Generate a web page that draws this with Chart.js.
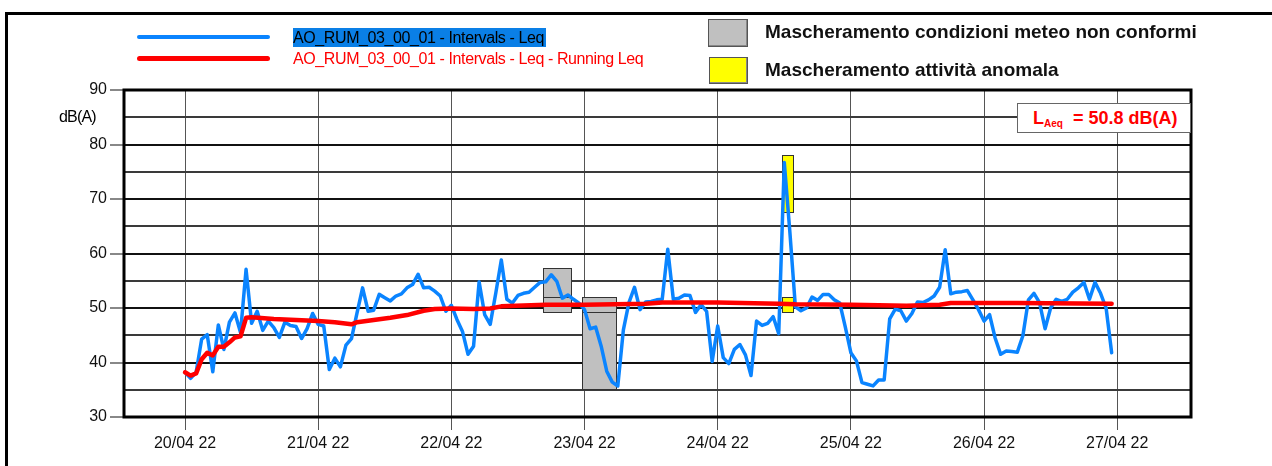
<!DOCTYPE html>
<html>
<head>
<meta charset="utf-8">
<script src="https://cdn.jsdelivr.net/npm/chart.js@4.4.1/dist/chart.umd.min.js"></script>
<style>
  html, body { margin: 0; padding: 0; background: #fff; }
  #wrap { position: relative; width: 1272px; height: 466px; overflow: hidden; font-family: "Liberation Sans", Arial, sans-serif; }
  #frame { position: absolute; left: 5px; top: 12px; width: 1400px; height: 600px; border-left: 3px solid #000; border-top: 3px solid #000; }
  canvas { position: absolute; left: 0; top: 0; }
  .lg-line { position: absolute; border-radius: 3px; }
  .lg-txt { position: absolute; font-size: 16px; letter-spacing: -0.4px; white-space: nowrap; line-height: 19px; }
  .mk-box { position: absolute; border: 1px solid #555; box-shadow: inset -1px -1px 0 #888; }
  .mk-txt { position: absolute; font-size: 19px; font-weight: bold; white-space: nowrap; line-height: 22px; color: #111; }
  #ylab { position: absolute; left: 59px; top: 108px; font-size: 16px; letter-spacing: -0.8px; }
  #laeq { position: absolute; left: 1017px; top: 103px; width: 172px; height: 28px; background: #fff; border: 1px solid #666; color: #f00; font-weight: bold; font-size: 18px; line-height: 28px; white-space: nowrap; }
  #laeq sub { font-size: 10px; vertical-align: -3px; }
</style>
</head>
<body>
<div id="wrap">
  <div id="frame"></div>
  <canvas id="chart" width="1272" height="466"></canvas>

  <div class="lg-line" style="left:137px; top:35px; width:133px; height:4px; background:#0a84ff;"></div>
  <div class="lg-line" style="left:137px; top:56px; width:133px; height:5px; background:#ff0000;"></div>
  <div class="lg-txt" style="left:293px; top:28px; background:#0a7fe6; color:#000; padding-right:2px;">AO_RUM_03_00_01 - Intervals - Leq</div>
  <div class="lg-txt" style="left:293px; top:49px; color:#ff0000;">AO_RUM_03_00_01 - Intervals - Leq - Running Leq</div>

  <div class="mk-box" style="left:708px; top:19px; width:38px; height:26px; background:#c0c0c0;"></div>
  <div class="mk-txt" style="left:765px; top:21px;">Mascheramento condizioni meteo non conformi</div>
  <div class="mk-box" style="left:709px; top:57px; width:37px; height:25px; background:#ffff00;"></div>
  <div class="mk-txt" style="left:765px; top:59px;">Mascheramento attività anomala</div>

  <div id="ylab">dB(A)</div>
  <div id="laeq">&nbsp;&nbsp;&nbsp;L<sub>Aeq</sub>&nbsp;&nbsp;= 50.8 dB(A)</div>
</div>

<script>
  // ---- dati (ore dall'inizio del 20/04/22) ----
  const dayHours = [0, 24, 48, 72, 96, 120, 144, 168];
  const dayLabels = ["20/04 22", "21/04 22", "22/04 22", "23/04 22", "24/04 22", "25/04 22", "26/04 22", "27/04 22"];

  // Leq orario (una misura per ora, h0..h167)
  const leqValues = [
    38.2, 37.1, 38.2, 44.3, 45.1, 38.3, 46.9, 42.4, 47.4, 49.1, 45.5, 57.1,
    47.2, 49.4, 45.9, 47.6, 46.4, 44.6, 47.4, 46.8, 46.6, 44.4, 46.2, 49.0,
    47.0, 46.7, 38.7, 40.8, 39.2, 43.2, 44.4, 49.1, 53.7, 49.4, 49.6, 52.5,
    51.9, 51.3, 52.2, 52.6, 53.7, 54.3, 56.2, 53.7, 53.8, 53.1, 52.2, 49.4,
    50.5, 47.9, 45.7, 41.5, 43.0, 54.8, 48.8, 47.0, 52.7, 58.8, 51.6, 50.9,
    52.3, 52.7, 52.9, 53.8, 54.7, 54.8, 56.1, 54.9, 51.8, 52.4, 51.6, 50.9,
    49.7, 46.2, 46.5, 43.0, 38.4, 36.4, 35.7, 46.0, 51.0, 53.8, 49.7, 51.1,
    51.2, 51.5, 51.6, 60.8, 51.6, 51.8, 52.4, 52.3, 49.2, 50.6, 49.4, 40.2,
    46.7, 40.9, 39.8, 42.4, 43.3, 41.4, 37.6, 47.6, 46.8, 47.2, 48.4, 45.3,
    76.7, 64.0, 50.2, 49.5, 50.0, 52.0, 51.4, 52.5, 52.5, 51.5, 50.9, 46.5,
    41.8, 40.3, 36.3, 36.0, 35.7, 36.8, 36.8, 48.0, 49.8, 49.5, 47.6, 49.0,
    51.1, 51.0, 51.5, 52.2, 53.8, 60.7, 52.6, 52.9, 53.0, 53.2, 51.5, 49.7,
    47.6, 48.8, 44.5, 41.5, 42.1, 42.0, 41.9, 44.9, 51.5, 52.7, 51.0, 46.2,
    50.0, 51.6, 51.2, 51.6, 52.9, 53.7, 54.7, 51.6, 54.7, 52.7, 50.0, 41.8
  ];

  // Running Leq (punti letti lungo la curva rossa)
  const runHours = [0, 1, 2, 3, 4, 5, 6, 7, 8, 9, 10, 11, 12, 16, 20, 24, 27, 30, 31, 34, 37, 40, 43, 45, 48, 52, 55, 57, 65, 72, 83, 86, 96, 107, 110, 120, 130, 136, 138, 150, 167];
  const runValues = [38.2, 37.6, 38.0, 40.6, 41.8, 41.3, 42.9, 42.9, 43.7, 44.6, 44.8, 48.2, 48.3, 48.0, 47.8, 47.6, 47.4, 47.0, 47.4, 47.8, 48.2, 48.7, 49.5, 49.8, 49.9, 49.8, 49.9, 50.3, 50.6, 50.6, 50.8, 51.0, 51.0, 50.8, 50.7, 50.6, 50.4, 50.6, 50.9, 50.9, 50.8];

  // mascherature: [ora inizio, ora fine, dB min, dB max]
  const meteoMasks = [
    [64.6, 69.6, 49.2, 57.3],
    [64.6, 69.6, 49.2, 52.0],
    [71.6, 77.6, 35.1, 52.0],
    [71.6, 77.6, 49.2, 52.0]
  ];
  const anomalyMasks = [
    [107.6, 109.5, 67.7, 78.1],
    [107.6, 109.5, 49.3, 52.1]
  ];

  const leqPoints = leqValues.map((v, i) => ({ x: i, y: v }));
  const runPoints = runHours.map((h, i) => ({ x: h, y: runValues[i] }));

  // ---- plugin: rettangoli di mascheratura + bordo area grafico ----
  const maskPlugin = {
    id: "masks",
    beforeDatasetsDraw(chart) {
      const { ctx, scales: { x, y } } = chart;
      const drawSet = (list, fill) => {
        list.forEach(([h0, h1, lo, hi]) => {
          const px0 = Math.round(x.getPixelForValue(h0)) + 0.5;
          const px1 = Math.round(x.getPixelForValue(h1)) + 0.5;
          const py0 = Math.round(y.getPixelForValue(hi)) + 0.5;
          const py1 = Math.round(y.getPixelForValue(lo)) + 0.5;
          ctx.save();
          ctx.fillStyle = fill;
          ctx.fillRect(px0, py0, px1 - px0, py1 - py0);
          ctx.strokeStyle = "#333";
          ctx.lineWidth = 1;
          ctx.strokeRect(px0, py0, px1 - px0, py1 - py0);
          ctx.restore();
        });
      };
      drawSet(meteoMasks, "#c0c0c0");
      drawSet(anomalyMasks, "#ffff00");
    },
    afterDraw(chart) {
      const { ctx, chartArea: a } = chart;
      ctx.save();
      ctx.strokeStyle = "#000";
      ctx.lineWidth = 3;
      ctx.strokeRect(a.left, a.top, a.right - a.left, a.bottom - a.top);
      ctx.restore();
    }
  };

  Chart.defaults.font.family = "'Liberation Sans', Arial, sans-serif";
  Chart.defaults.font.size = 16;
  Chart.defaults.color = "#111";

  new Chart(document.getElementById("chart"), {
    type: "line",
    data: {
      datasets: [
        {
          label: "AO_RUM_03_00_01 - Intervals - Leq - Running Leq",
          data: runPoints,
          borderColor: "#ff0000",
          borderWidth: 4.5,
          borderJoinStyle: "round",
          borderCapStyle: "round",
          pointRadius: 0,
          tension: 0,
          order: 1
        },
        {
          label: "AO_RUM_03_00_01 - Intervals - Leq",
          data: leqPoints,
          borderColor: "#0a84ff",
          borderWidth: 3.5,
          borderJoinStyle: "round",
          borderCapStyle: "round",
          pointRadius: 0,
          tension: 0,
          order: 2
        }
      ]
    },
    options: {
      responsive: false,
      animation: false,
      layout: { padding: { left: 0, top: 90, right: 81, bottom: 0 } },
      plugins: { legend: { display: false }, tooltip: { enabled: false } },
      scales: {
        x: {
          type: "linear",
          min: -11,
          max: 181.3,
          afterBuildTicks: (s) => { s.ticks = dayHours.map((v) => ({ value: v })); },
          afterFit: (s) => { s.height = 49; },
          ticks: {
            autoSkip: false,
            maxRotation: 0,
            padding: 4,
            callback: (v, i) => dayLabels[i]
          },
          grid: { color: "#555", lineWidth: 1, tickLength: 13, tickColor: "#555" },
          border: { display: false }
        },
        y: {
          min: 30,
          max: 90,
          afterFit: (s) => { s.width = 124; },
          ticks: {
            stepSize: 5,
            padding: 3,
            callback: (v) => (v % 10 === 0 ? String(v) : "")
          },
          grid: {
            lineWidth: 2,
            color: (c) => (c.tick && c.tick.value % 10 === 0 ? "#111" : "#3a3a3a"),
            tickLength: 14,
            tickColor: (c) => (c.tick && c.tick.value % 10 === 0 ? "#888" : "rgba(0,0,0,0)")
          },
          border: { display: false }
        }
      }
    },
    plugins: [maskPlugin]
  });
</script>
</body>
</html>
